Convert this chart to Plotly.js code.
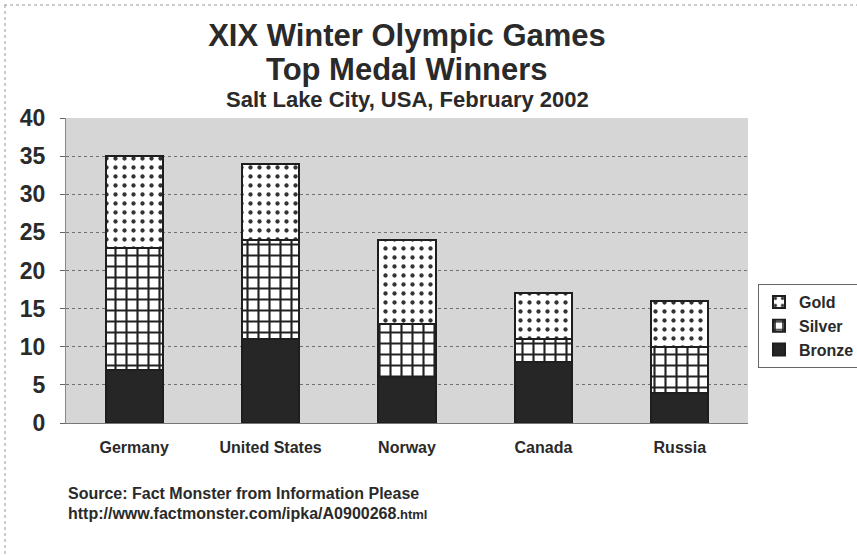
<!DOCTYPE html>
<html>
<head>
<meta charset="utf-8">
<script src="https://cdn.plot.ly/plotly-3.0.1.min.js"></script>
<style>html,body{margin:0;padding:0;background:#fff;}#chart{width:857px;height:555px;}</style>
</head>
<body>
<div id="chart"></div>
<script>
const countries = ["Germany", "United States", "Norway", "Canada", "Russia"];
const bronze = [7, 11, 6, 8, 4];
const silver = [16, 13, 7, 3, 6];
const gold = [12, 10, 11, 6, 6];
const yTicks = [0, 5, 10, 15, 20, 25, 30, 35, 40];
const titleLines = ["XIX Winter Olympic Games", "Top Medal Winners", "Salt Lake City, USA, February 2002"];
const sourceLines = ["Source: Fact Monster from Information Please",
                     "http://www.factmonster.com/ipka/A0900268<span style='font-size:13px'>.html</span>"];

const FONT = "Liberation Sans, Arial, sans-serif";
const INK = "#2a2a2a";
const line = {color: "#1e1e1e", width: 2};

const traces = [
  {type: "bar", name: "Bronze", x: countries, y: bronze,
   marker: {color: "#262626", line: line}},
  {type: "bar", name: "Silver", x: countries, y: silver,
   marker: {color: "#ffffff", line: line,
            pattern: {shape: "+", fgcolor: "#222", bgcolor: "#ffffff", size: 11, solidity: 0.35}}},
  {type: "bar", name: "Gold", x: countries, y: gold,
   marker: {color: "#ffffff", line: line,
            pattern: {shape: ".", fgcolor: "#333", bgcolor: "#ffffff", size: 9, solidity: 0.18}}}
];

// plot area in pixels: x 66..748, y 118..423
const PL = 66, PR = 748, PT = 118, PB = 423;
const px = v => (v - PL) / (PR - PL);
const py = v => (PB - v) / (PB - PT);

const layout = {
  width: 857, height: 555,
  margin: {l: PL, r: 857 - PR, t: PT, b: 555 - PB, autoexpand: false},
  paper_bgcolor: "#ffffff",
  plot_bgcolor: "#d6d6d6",
  barmode: "stack",
  bargap: 0.58,
  font: {family: FONT, color: INK},
  title: {
    text: titleLines[0],
    font: {family: FONT, size: 31, color: INK, weight: "bold"},
    x: 0.5, xanchor: "center", xref: "paper",
    y: 1 - 35 / 555, yanchor: "middle", yref: "container"
  },
  xaxis: {
    type: "category",
    tickfont: {family: FONT, size: 16, color: INK, weight: "bold"},
    showgrid: false, zeroline: false,
    showline: true, linecolor: "#777", linewidth: 1,
    ticks: "", ticklabelstandoff: 10
  },
  yaxis: {
    range: [0, 40], tickvals: yTicks, ticktext: yTicks.map(String),
    tickfont: {family: FONT, size: 23, color: INK, weight: "bold"},
    showgrid: true, gridcolor: "#707070", gridwidth: 1, griddash: "dot",
    zeroline: false, showline: true, linecolor: "#888", linewidth: 1,
    ticks: "outside", ticklen: 5, tickcolor: "#666", ticklabelstandoff: 10
  },
  legend: {
    x: px(758), xanchor: "left", y: py(284), yanchor: "top",
    traceorder: "reversed",
    bordercolor: "#666", borderwidth: 1, bgcolor: "#ffffff",
    font: {family: FONT, size: 16, color: INK, weight: "bold"},
    itemwidth: 30, tracegroupgap: 2
  },
  annotations: [
    {text: titleLines[1], xref: "paper", yref: "paper",
     x: 0.5, y: py(69), xanchor: "center", yanchor: "middle", showarrow: false,
     font: {family: FONT, size: 31, color: INK, weight: "bold"}},
    {text: titleLines[2], xref: "paper", yref: "paper",
     x: 0.5, y: py(99), xanchor: "center", yanchor: "middle", showarrow: false,
     font: {family: FONT, size: 22, color: INK, weight: "bold"}},
    {text: sourceLines[0], xref: "paper", yref: "paper",
     x: px(66), y: py(493), xanchor: "left", yanchor: "middle", showarrow: false,
     font: {family: FONT, size: 16, color: INK, weight: "bold"}},
    {text: sourceLines[1], xref: "paper", yref: "paper",
     x: px(66), y: py(513), xanchor: "left", yanchor: "middle", showarrow: false,
     font: {family: FONT, size: 16, color: INK, weight: "bold"}}
  ],
  shapes: [
    {type: "line", xref: "paper", yref: "paper",
     x0: px(4), x1: px(857), y0: py(5), y1: py(5),
     line: {color: "#999", width: 1, dash: "dot"}},
    {type: "line", xref: "paper", yref: "paper",
     x0: px(5), x1: px(5), y0: py(5), y1: py(555),
     line: {color: "#999", width: 1, dash: "dot"}}
  ],
  showlegend: true
};

Plotly.newPlot("chart", traces, layout, {displayModeBar: false, staticPlot: true});
</script>
</body>
</html>
